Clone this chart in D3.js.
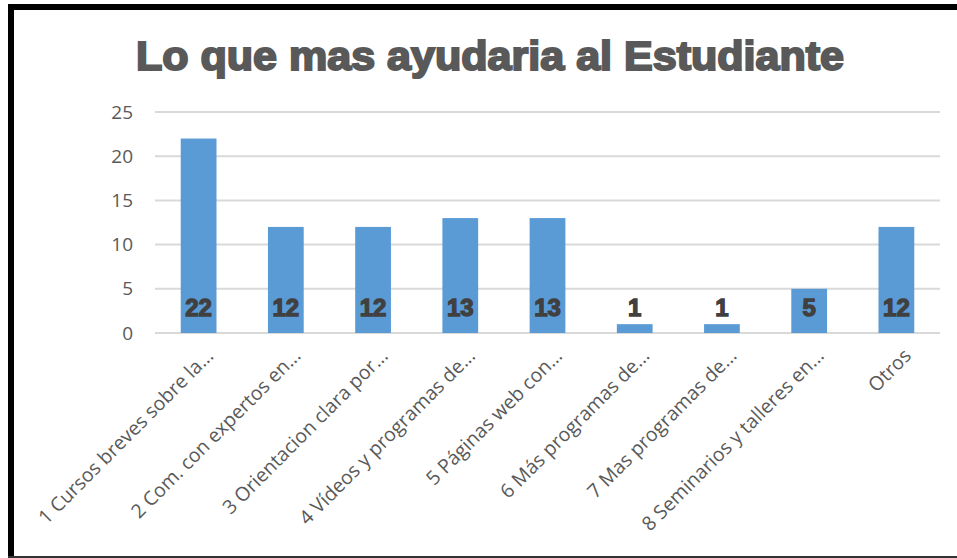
<!DOCTYPE html>
<html>
<head>
<meta charset="utf-8">
<script src="https://cdn.jsdelivr.net/npm/d3@7"></script>
<style>
  html, body { margin: 0; padding: 0; background: #fff; }
  svg { display: block; }
</style>
</head>
<body>
<div id="chart"></div>
<script>
const categories = [
  '1 Cursos breves sobre la...',
  '2 Com. con expertos en...',
  '3 Orientacion clara por...',
  '4 Vídeos y programas de...',
  '5 Páginas web con...',
  '6 Más programas de...',
  '7 Mas programas de...',
  '8 Seminarios y talleres en...',
  'Otros'
];
const values = [22, 12, 12, 13, 13, 1, 1, 5, 12];
const yTicks = [0, 5, 10, 15, 20, 25];
const title = 'Lo que mas ayudaria al Estudiante';

const width = 957;
const height = 558;
const margin = { top: 112, right: 17, bottom: 225, left: 155 };

const svg = d3.select('#chart').append('svg')
  .attr('width', width)
  .attr('height', height);

// frame
svg.append('rect').attr('x', 8).attr('y', 4).attr('width', width - 8).attr('height', 6).attr('fill', '#000');
svg.append('rect').attr('x', 8).attr('y', 4).attr('width', 6).attr('height', height - 4).attr('fill', '#000');
svg.append('rect').attr('x', 8).attr('y', 556).attr('width', width - 8).attr('height', 2).attr('fill', '#333');

const x = d3.scaleBand()
  .domain(categories)
  .range([margin.left, width - margin.right])
  .paddingInner(0.59)
  .paddingOuter(0.295);

const y = d3.scaleLinear()
  .domain([0, 25])
  .range([height - margin.bottom, margin.top]);

// title
svg.append('text')
  .attr('x', 490)
  .attr('y', 70)
  .attr('text-anchor', 'middle')
  .attr('font-family', 'Liberation Sans, Arial, sans-serif')
  .attr('font-weight', 'bold')
  .attr('font-size', 40)
  .attr('fill', '#595959')
  .attr('stroke', '#595959')
  .attr('stroke-width', 2)
  .attr('textLength', 708)
  .attr('lengthAdjust', 'spacingAndGlyphs')
  .text(title);

// grid
svg.append('g')
  .selectAll('line')
  .data(yTicks)
  .join('line')
  .attr('x1', margin.left)
  .attr('x2', width - margin.right)
  .attr('y1', d => y(d))
  .attr('y2', d => y(d))
  .attr('stroke', '#d9d9d9')
  .attr('stroke-width', 2);

// y axis labels
const yAxis = svg.append('g')
  .attr('transform', `translate(${margin.left - 22},0)`)
  .call(d3.axisLeft(y).tickValues(yTicks).tickSize(0).tickPadding(0));
yAxis.select('.domain').remove();
yAxis.selectAll('text')
  .attr('font-family', 'Open Sans, sans-serif')
  .attr('font-size', 19)
  .attr('fill', '#595959');

// bars
svg.append('g')
  .selectAll('rect')
  .data(values)
  .join('rect')
  .attr('x', (d, i) => x(categories[i]))
  .attr('y', d => y(d))
  .attr('width', x.bandwidth())
  .attr('height', d => y(0) - y(d))
  .attr('fill', '#5b9bd5');

// value labels
svg.append('g')
  .selectAll('text')
  .data(values)
  .join('text')
  .attr('x', (d, i) => x(categories[i]) + x.bandwidth() / 2)
  .attr('y', 316)
  .attr('text-anchor', 'middle')
  .attr('font-family', 'Liberation Sans, Arial, sans-serif')
  .attr('font-weight', 'bold')
  .attr('font-size', 24)
  .attr('fill', '#404040')
  .attr('stroke', '#404040')
  .attr('stroke-width', 1.3)
  .text(d => d);

// x axis labels
const xAxis = svg.append('g')
  .attr('transform', `translate(0,${height - margin.bottom})`)
  .call(d3.axisBottom(x).tickSize(0).tickPadding(0));
xAxis.select('.domain').remove();
xAxis.selectAll('text')
  .attr('font-family', 'Open Sans, sans-serif')
  .attr('font-size', 19.5)
  .attr('fill', '#595959')
  .attr('text-anchor', 'end')
  .attr('dy', null)
  .attr('transform', 'translate(16,24) rotate(-45)');
</script>
</body>
</html>
